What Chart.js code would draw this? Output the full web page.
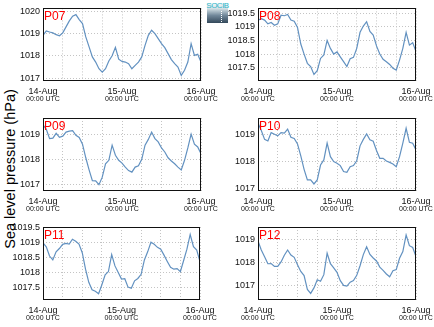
<!DOCTYPE html>
<html><head><meta charset="utf-8">
<script src="https://cdn.jsdelivr.net/npm/chart.js@4/dist/chart.umd.min.js"></script>
<style>
html,body{margin:0;padding:0;background:#fff;}
body{width:434px;height:327px;position:relative;overflow:hidden;font-family:"Liberation Sans",Arial,sans-serif;}
canvas{position:absolute;left:0;top:0;}
#ytitle{position:absolute;left:10px;top:169px;transform:translate(-50%,-50%) rotate(-90deg);white-space:nowrap;font-size:14.5px;color:#000;}
#logo{position:absolute;left:207px;top:3px;width:21px;height:20px;background:linear-gradient(#f4f9fb 0%,#d3e0e5 28%,#71889a 62%,#33485a 100%);}
#logo span{position:absolute;left:-1px;top:-1px;width:23px;text-align:center;font-size:8px;line-height:8px;color:#2fb7c9;letter-spacing:-0.5px;}
#logo i{position:absolute;left:14px;top:8px;height:11px;border-left:1px dotted #fff;}
</style></head>
<body>
<div id="ytitle">Sea level pressure (hPa)</div>
<div id="logo"><span>SOCIB</span><i></i></div>
<canvas id="c0" width="434" height="327"></canvas>
<canvas id="c1" width="434" height="327"></canvas>
<canvas id="c2" width="434" height="327"></canvas>
<canvas id="c3" width="434" height="327"></canvas>
<canvas id="c4" width="434" height="327"></canvas>
<canvas id="c5" width="434" height="327"></canvas>
<script>
// hours since 14-Aug 00:00 UTC
const hours = [0,1,2,3,4,5,6,7,8,9,10,11,12,13,14,15,16,17,18,19,20,21,22,23,24,25,26,27,28,29,30,31,32,33,34,35,36,37,38,39,40,41,42,43,44,45,46,47,48];
const xLabelHours = [0,24,48];
const xLabels = ["14-Aug","15-Aug","16-Aug"];
const xSubLabels = ["00:00 UTC","00:00 UTC","00:00 UTC"];
const xGridHours = [0,6,12,18,24,30,36,42,48];

const p07 = [1018.92,1019.12,1019.07,1019.03,1018.95,1018.90,1019.03,1019.30,1019.57,1019.78,1019.85,1019.63,1019.45,1018.85,1018.40,1017.95,1017.72,1017.42,1017.27,1017.42,1017.77,1018.00,1018.38,1017.85,1017.75,1017.72,1017.65,1017.42,1017.57,1017.72,1017.95,1018.47,1018.92,1019.15,1019.00,1018.77,1018.55,1018.37,1018.10,1017.83,1017.65,1017.50,1017.12,1017.35,1017.72,1018.55,1018.02,1018.07,1017.72];
const p08 = [1019.25,1019.30,1019.25,1019.11,1019.16,1019.06,1019.11,1019.43,1019.41,1019.46,1019.25,1019.21,1018.98,1018.37,1018.00,1017.66,1017.54,1017.25,1017.39,1017.84,1017.97,1018.50,1018.21,1018.00,1018.08,1017.90,1017.72,1017.54,1017.83,1017.88,1018.21,1018.80,1019.03,1019.19,1018.83,1018.70,1018.30,1018.00,1017.81,1017.72,1017.62,1017.48,1017.41,1017.78,1018.21,1018.80,1018.33,1018.42,1018.09];
const p09 = [1019.38,1019.20,1018.83,1018.85,1019.04,1018.88,1018.93,1019.09,1019.13,1019.15,1018.96,1018.88,1018.61,1018.07,1017.59,1017.16,1017.15,1017.00,1017.30,1017.83,1017.97,1018.57,1018.17,1017.97,1017.86,1017.70,1017.56,1017.50,1017.70,1017.75,1018.01,1018.57,1018.80,1019.09,1018.83,1018.70,1018.46,1018.30,1018.07,1017.94,1017.83,1017.70,1017.59,1017.97,1018.46,1019.01,1018.61,1018.50,1018.23];
const p10 = [1019.41,1019.14,1018.81,1018.75,1019.06,1019.00,1018.94,1019.06,1019.04,1019.19,1018.89,1018.84,1018.64,1018.20,1017.70,1017.31,1017.31,1017.16,1017.31,1017.86,1018.05,1018.67,1018.17,1017.99,1017.93,1017.84,1017.62,1017.59,1017.80,1017.84,1018.02,1018.57,1018.81,1019.01,1018.79,1018.74,1018.40,1018.11,1018.11,1018.01,1017.96,1017.90,1017.80,1018.17,1018.67,1019.22,1018.70,1018.67,1018.42];
const p11 = [1018.99,1018.86,1018.55,1018.42,1018.69,1018.80,1018.94,1018.97,1018.95,1019.11,1019.04,1018.95,1018.66,1018.11,1017.67,1017.42,1017.37,1017.29,1017.59,1017.92,1018.03,1018.60,1018.22,1018.00,1017.78,1017.79,1017.51,1017.47,1017.72,1017.80,1017.94,1018.42,1018.69,1019.01,1018.94,1018.84,1018.78,1018.58,1018.37,1018.17,1018.11,1018.13,1018.03,1018.40,1018.78,1019.27,1018.86,1018.75,1018.36];
const p12 = [1018.94,1018.54,1018.25,1017.94,1017.95,1017.82,1017.82,1018.02,1018.31,1018.54,1018.32,1018.22,1017.89,1017.60,1017.42,1016.81,1016.64,1016.88,1017.24,1017.17,1017.46,1018.40,1017.94,1017.76,1017.56,1017.20,1016.99,1016.96,1017.13,1017.20,1017.43,1017.85,1018.34,1018.68,1018.35,1018.19,1018.06,1017.79,1017.65,1017.49,1017.37,1017.63,1017.68,1018.18,1018.47,1019.20,1018.73,1018.65,1018.25];

const names = ["P07","P08","P09","P10","P11","P12"];
const series = [p07,p08,p09,p10,p11,p12];
const yTicks = [
  [1017,1018,1019,1020],
  [1017.5,1018,1018.5,1019,1019.5],
  [1017,1018,1019],
  [1017,1018,1019],
  [1017.5,1018,1018.5,1019,1019.5],
  [1017,1018,1019]
];
const yRanges = [[1016.87,1020.13],[1017.01,1019.68],[1016.75,1019.65],[1016.9,1019.6],[1017.08,1019.52],[1016.35,1019.55]];

// plot boxes: left, top, right, bottom
const boxes = [[43,8,201,81],[258,8,416,81],[43,118,201,191],[258,118,416,191],[43,227,200,300],[258,227,416,300]];

const FONT = '"Liberation Sans", Arial, sans-serif';

const framePlugin = {
  id: 'frame',
  afterDraw(chart, args, opts) {
    const {ctx, chartArea} = chart;
    const {left, top, right, bottom} = chartArea;
    const xs = chart.scales.x;
    ctx.save();
    ctx.strokeStyle = '#111';
    ctx.lineWidth = 1;
    ctx.strokeRect(Math.round(left) + 0.5, Math.round(top) + 0.5, Math.round(right - left) - 1, Math.round(bottom - top) - 1);
    ctx.fillStyle = '#ff0000';
    ctx.font = '12px ' + FONT;
    ctx.textAlign = 'left';
    ctx.textBaseline = 'alphabetic';
    ctx.fillText(opts.name, left + 1, top + 12);
    ctx.fillStyle = '#111';
    ctx.textAlign = 'center';
    xLabelHours.forEach((h, i) => {
      const px = xs.getPixelForValue(h);
      ctx.font = '9px ' + FONT;
      ctx.fillText(xLabels[i], px, bottom + 13);
      ctx.font = '7px ' + FONT;
      ctx.fillText(xSubLabels[i], px, bottom + 20);
    });
    ctx.restore();
  }
};

series.forEach((vals, k) => {
  const [L, T, R, B] = boxes[k];
  const yW = 40, xH = 20;
  new Chart(document.getElementById('c' + k), {
    type: 'line',
    data: {
      labels: hours,
      datasets: [{
        data: hours.map((h, i) => ({x: h, y: vals[i]})),
        borderColor: 'rgb(98,145,192)',
        borderWidth: 1.2,
        pointRadius: 0,
        tension: 0,
        fill: false
      }]
    },
    options: {
      responsive: false,
      animation: false,
      events: [],
      layout: {padding: {left: L - yW, top: T, right: 434 - R, bottom: 327 - B - xH}},
      plugins: {legend: {display: false}, tooltip: {enabled: false}, frame: {name: names[k]}},
      scales: {
        x: {
          type: 'linear', min: 0, max: 48,
          afterBuildTicks: s => { s.ticks = xGridHours.map(v => ({value: v})); },
          afterFit: s => { s.height = xH; },
          ticks: {display: false},
          grid: {color: '#c4c4c4', lineWidth: 1, drawTicks: false},
          border: {display: false, dash: [1, 2]}
        },
        y: {
          min: yRanges[k][0], max: yRanges[k][1],
          afterBuildTicks: s => { s.ticks = yTicks[k].map(v => ({value: v})); },
          afterFit: s => { s.width = yW; },
          ticks: {font: {size: 9, family: FONT}, color: '#111', padding: 3, callback: v => String(v)},
          grid: {color: '#c4c4c4', lineWidth: 1, drawTicks: false},
          border: {display: false, dash: [1, 2]}
        }
      }
    },
    plugins: [framePlugin]
  });
});
</script>
</body></html>
